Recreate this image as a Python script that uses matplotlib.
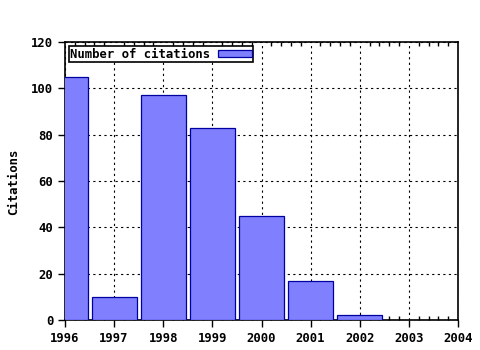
import matplotlib
matplotlib.use("Agg")
import matplotlib.pyplot as plt
from matplotlib.ticker import MultipleLocator

years = [1996, 1997, 1998, 1999, 2000, 2001, 2002]
citations = [105, 10, 97, 83, 45, 17, 2]
series_label = "Number of citations"
y_label = "Citations"

plt.rcParams["font.family"] = "DejaVu Sans Mono"
plt.rcParams["font.weight"] = "bold"
plt.rcParams["font.size"] = 8.8

fig = plt.figure(figsize=(4.8, 3.5), dpi=100)
ax = fig.add_axes([65 / 480, 30 / 350, 393 / 480, 278 / 350])

ax.bar(years, citations, width=0.92, color="#8080ff", edgecolor="#0000a0",
       linewidth=0.9, label=series_label, zorder=3)

ax.set_xlim(1996, 2004)
ax.set_ylim(0, 120)
ax.xaxis.set_major_locator(MultipleLocator(1))
ax.xaxis.set_minor_locator(MultipleLocator(0.2))
ax.yaxis.set_major_locator(MultipleLocator(20))
ax.grid(True, which="major", color="black", linestyle=(0, (2, 3)), linewidth=0.8, zorder=1)

# bottom: major ticks outward, minor inward; top: minor ticks inward
ax.tick_params(axis="x", which="major", direction="out", length=5, width=1)
ax.tick_params(axis="x", which="minor", direction="in", length=3, width=1, top=True)
ax.tick_params(axis="y", which="major", direction="out", length=5, width=1)
for s in ax.spines.values():
    s.set_linewidth(1.2)

fig.text(14 / 480, 1 - 182 / 350, y_label, rotation=90, ha="center", va="center")

leg = ax.legend(loc="upper left", markerfirst=False, fancybox=False,
                framealpha=1, edgecolor="black", borderpad=0.1,
                handlelength=2.8, handleheight=0.5, borderaxespad=0.35,
                handletextpad=0.6, prop={"family": "DejaVu Sans Mono", "weight": "bold", "size": 8.8})
leg.get_frame().set_linewidth(1.2)

fig.savefig("out.png", dpi=100)
